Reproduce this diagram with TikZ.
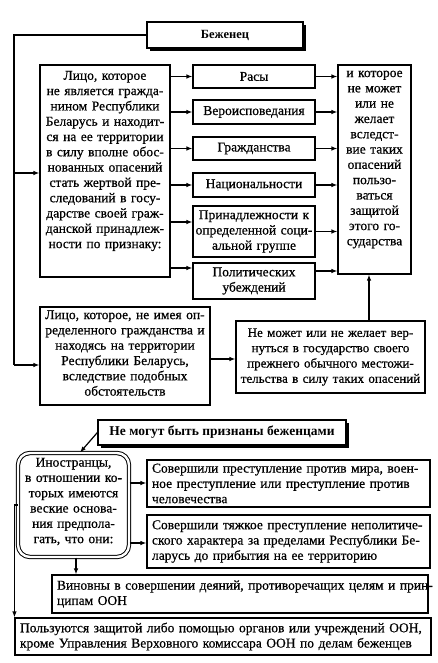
\documentclass[tikz,border=0pt]{standalone}
\usepackage{fontspec}
\setmainfont[UprightFeatures={FakeBold=0.6}]{Liberation Serif}
\usetikzlibrary{arrows.meta,shadows}
\newcommand\jl[1]{\makebox[\linewidth][s]{#1}}
\begin{document}
\begin{tikzpicture}[x=1pt,y=-1pt,
  every node/.style={font=\fontsize{13.5}{15.3}\selectfont, execute at begin node={\baselineskip=15.3pt}},
  box/.style={draw, line width=1.1pt, fill=white, inner xsep=4pt, inner ysep=2pt, align=center},
  jbox/.style={draw, line width=1.1pt, fill=white, inner xsep=5pt, inner ysep=2pt, align=left},
  ttl/.style={draw, line width=1.2pt, fill=white, inner sep=0pt, align=center,
     font=\fontsize{13.5}{15.3}\selectfont\bfseries,
     drop shadow={shadow xshift=3pt, shadow yshift=-3pt, fill=black, opacity=1}},
  ln/.style={line width=1.2pt},
  arr/.style={line width=1.2pt, -{Latex[length=6pt,width=4.5pt]}}]
\useasboundingbox (0,0) rectangle (437,663);

% title
\node[ttl, minimum width=156pt, minimum height=26pt, font=\fontsize{12.5}{15}\selectfont\bfseries] (ben) at (225,35) {Беженец};

% left big box
\node[box, minimum width=130pt, minimum height=212pt, text width=124pt, inner xsep=3pt] (L1) at (105,171)
{Лицо, которое\\не является гражда-\\нином Республики\\Беларусь и находит-\\ся на ее территории\\в силу вполне обос-\\нованных опасений\\стать жертвой пре-\\следований в госу-\\дарстве своей граж-\\данской принадлеж-\\ности по признаку:\par\kern20pt};

% middle boxes
\node[box, minimum width=122pt, minimum height=23pt, text width=114pt] (m1) at (254,76.5) {Расы};
\node[box, minimum width=122pt, minimum height=24pt, text width=114pt] (m2) at (254,112) {Вероисповедания};
\node[box, minimum width=122pt, minimum height=23pt, text width=114pt] (m3) at (254,148.5) {Гражданства};
\node[box, minimum width=122pt, minimum height=24pt, text width=114pt] (m4) at (254,185) {Национальности};
\node[box, minimum width=122pt, minimum height=51pt, text width=118pt, inner xsep=2pt] (m5) at (254,231.5) {Принадлежности к\\определенной соци-\\альной группе};
\node[box, minimum width=122pt, minimum height=36pt, text width=114pt] (m6) at (254,281) {Политических\\убеждений};

% right box
\node[box, minimum width=73pt, minimum height=209pt, text width=69pt, inner xsep=2pt] (R) at (374.5,169.5)
{и которое\\не может\\или не\\желает\\вследст-\\вие таких\\опасений\\пользо-\\ваться\\защитой\\этого го-\\сударства\par\kern20pt};

% second left box
\node[box, minimum width=170pt, minimum height=98pt, text width=166pt, inner xsep=2pt] (L2) at (125,356)
{Лицо, которое, не имея оп-\\ределенного гражданства и\\находясь на территории\\Республики Беларусь,\\вследствие подобных\\обстоятельств\par\kern6pt};

% cannot return
\node[box, minimum width=189pt, minimum height=72pt, text width=187pt, inner xsep=1pt,
  font=\fontsize{13}{15.3}\selectfont] (NM) at (330.5,357)
{Не может или не желает вер-\\нуться в государство своего\\прежнего обычного местожи-\\тельства в силу таких опасений};

% second title
\node[ttl, minimum width=248pt, minimum height=25pt] (NB) at (222,432.5) {Не могут быть признаны беженцами};

% foreigners rounded box
\node[draw, double, double distance=2.4pt, line width=1pt, rounded corners=12pt, fill=white,
  minimum width=111pt, minimum height=104pt, text width=105pt, inner sep=0pt, align=center] (INO) at (73.5,505)
{Иностранцы,\\в отношении ко-\\торых имеются\\веские основа-\\ния предпола-\\гать, что они:\par\kern7pt};

% lower boxes
\node[jbox, minimum width=283pt, minimum height=47pt, text width=273pt] (S1) at (288.5,483.5)
{\jl{Совершили преступление против мира, воен-}\\\jl{ное преступление или преступление против}\\человечества};
\node[jbox, minimum width=283pt, minimum height=53pt, text width=273pt] (S2) at (288.5,541.5)
{\jl{Совершили тяжкое преступление неполитиче-}\\\jl{ского характера за пределами Республики Бе-}\\ларусь до прибытия на ее территорию};
\node[jbox, minimum width=376pt, minimum height=38pt, text width=366pt] (V) at (240,594)
{\jl{Виновны в совершении деяний, противоречащих целям и прин-}\\ципам ООН};
\node[jbox, minimum width=416pt, minimum height=37pt, text width=406pt] (P) at (223,636.5)
{\jl{Пользуются защитой либо помощью органов или учреждений ООН,}\\\jl{кроме Управления Верховного комиссара ООН по делам беженцев}};

% connectors top
\coordinate (tl) at (14,35);
\coordinate (ml) at (14,173);
\coordinate (bl) at (14,365);
\draw[ln] (ben.west) -- (tl) -- (bl);
\draw[arr] (bl) -- (bl -| L1.west);
\draw[arr] (ml) -- (ml -| L1.west);

\draw[arr] (L1.east |- m1.west) -- (m1.west);
\draw[arr] (L1.east |- m2.west) -- (m2.west);
\draw[arr] (L1.east |- m3.west) -- (m3.west);
\draw[arr] (L1.east |- m4.west) -- (m4.west);
\draw[arr] (L1.east |- 0,222) -- (m5.west |- 0,222);
\draw[arr] (L1.east |- 0,268) -- (m6.west |- 0,268);

\draw[arr] (m1.east) -- (R.west |- m1.east);
\draw[arr] (m2.east) -- (R.west |- m2.east);
\draw[arr] (m3.east) -- (R.west |- m3.east);
\draw[arr] (m4.east) -- (R.west |- m4.east);
\draw[arr] (m5.east) -- (R.west |- m5.east);
\draw[arr] (m6.east |- 0,271) -- (R.west |- 0,271);

\draw[arr] (L2.east |- 0,359) -- (NM.west |- 0,359);
\draw[arr] (NM.north -| 369,0) -- (R.south -| 369,0);

% lower connectors
\draw[arr] (NB.west) -- (INO.north -| 80,0);
\draw[arr] (INO.east |- 0,483) -- (S1.west |- 0,483);
\draw[arr] (INO.east |- 0,543) -- (S2.west |- 0,543);
\draw[arr] (INO.south -| 76,0) -- (V.north -| 76,0);
\draw[arr] (INO.west) -| (P.north west);
\end{tikzpicture}
\end{document}
